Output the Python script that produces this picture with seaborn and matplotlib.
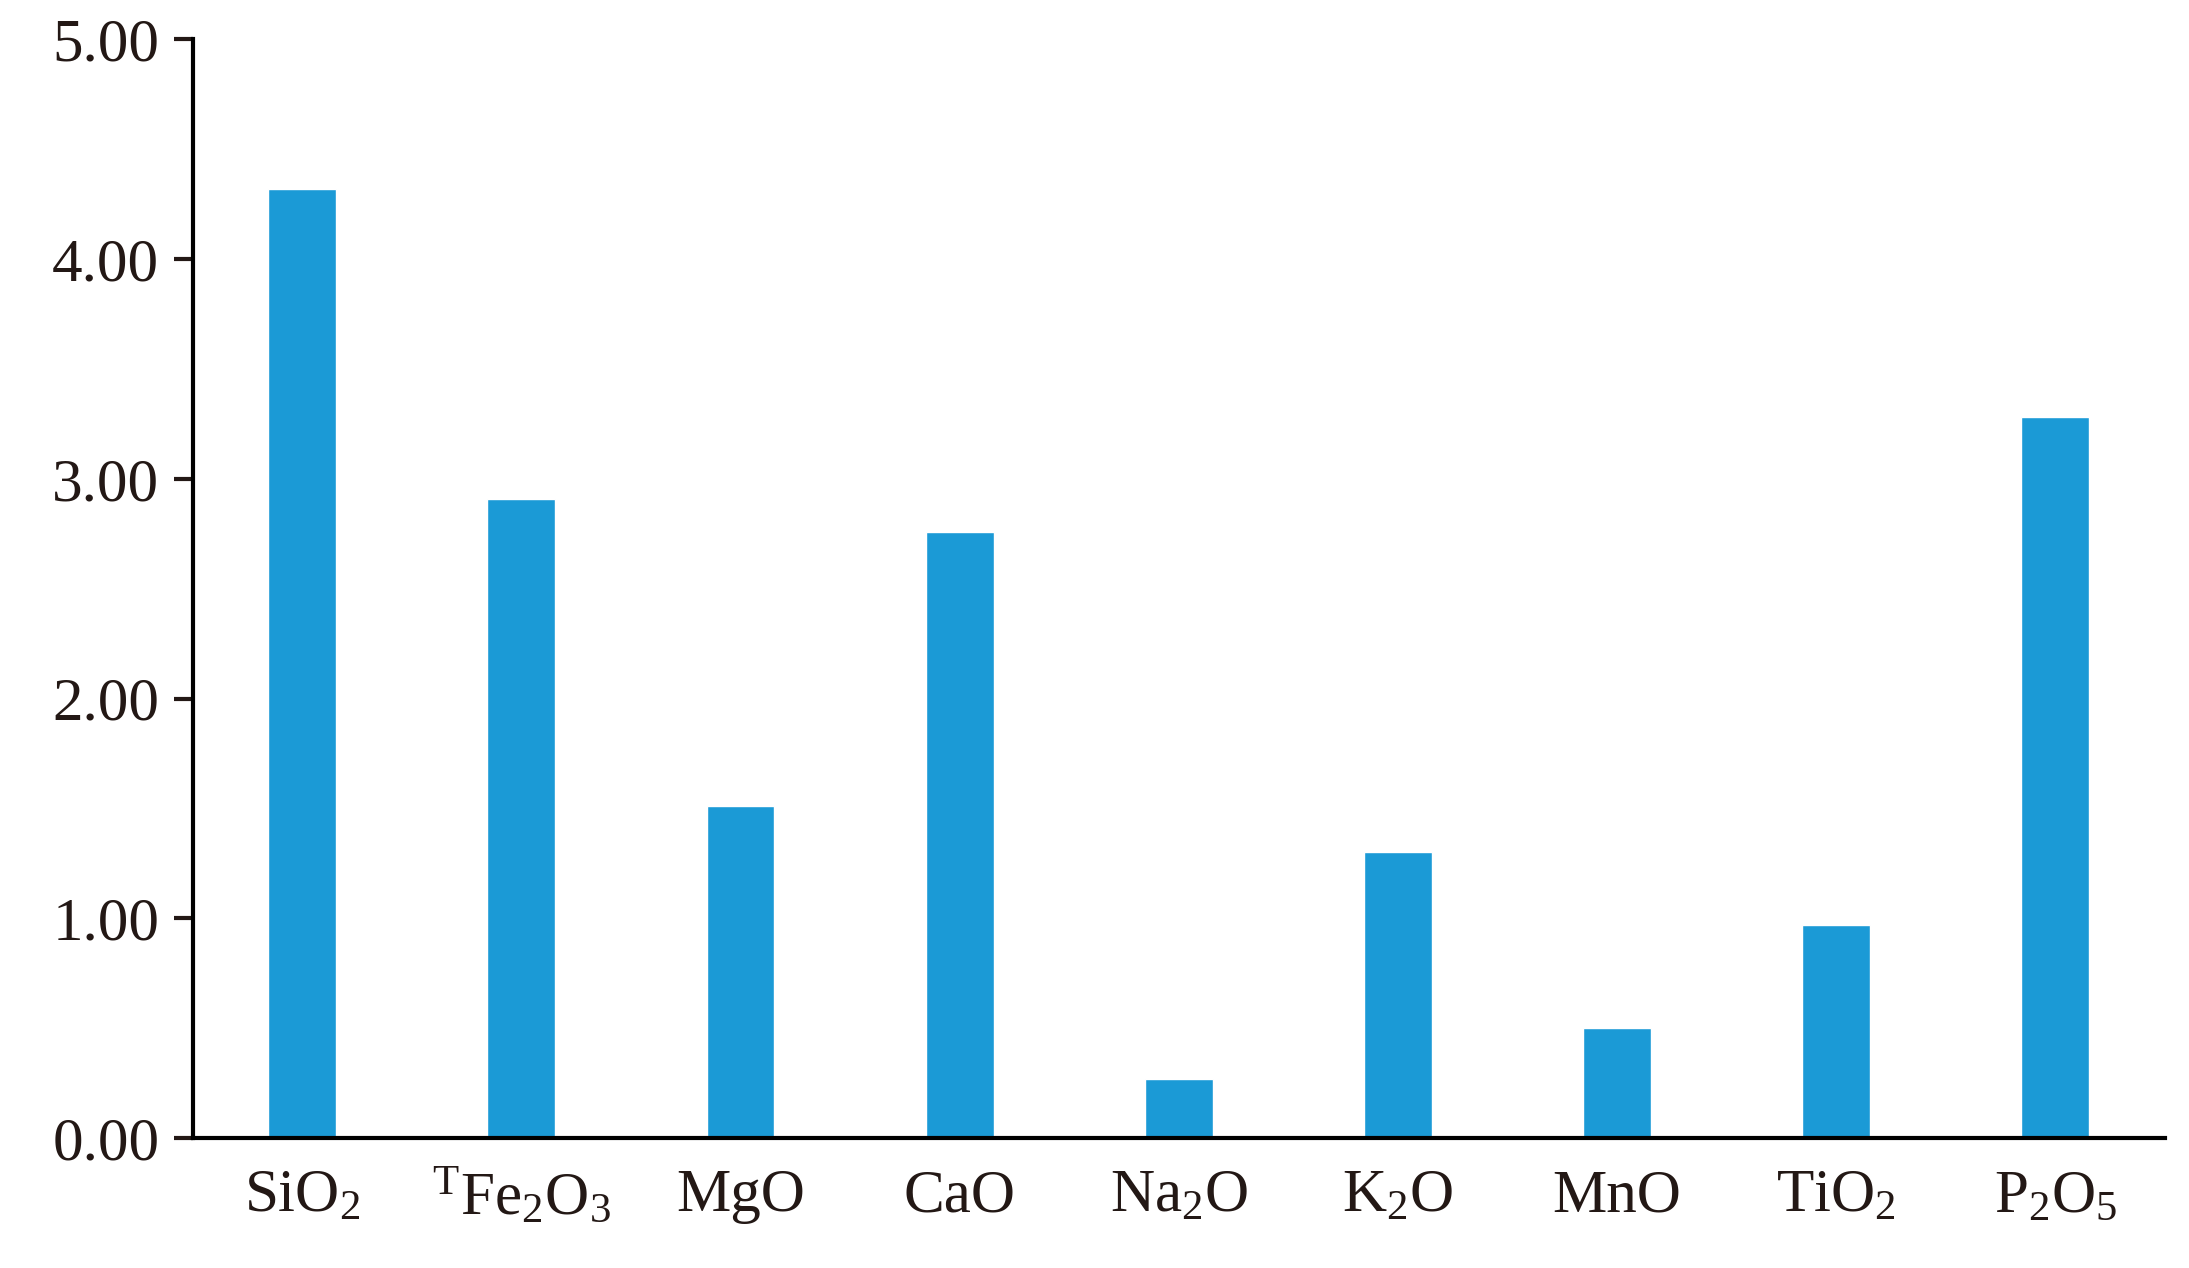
import matplotlib
matplotlib.use("Agg")
import matplotlib.pyplot as plt
import seaborn as sns
import pandas as pd

# oxide labels and values
oxides = [r"SiO$_2$", r"$^{\mathrm{T}}$Fe$_2$O$_3$", "MgO", "CaO", r"Na$_2$O",
          r"K$_2$O", "MnO", r"TiO$_2$", r"P$_2$O$_5$"]
values = [4.32, 2.91, 1.51, 2.76, 0.27, 1.30, 0.50, 0.97, 3.28]
yticks = [0, 1, 2, 3, 4, 5]

sns.set_style("ticks")
plt.rcParams["font.family"] = ["Liberation Serif", "DejaVu Serif"]
plt.rcParams["mathtext.fontset"] = "custom"
plt.rcParams["mathtext.rm"] = "Liberation Serif"
plt.rcParams["mathtext.it"] = "Liberation Serif"
plt.rcParams["mathtext.default"] = "regular"

df = pd.DataFrame({"oxide": oxides, "value": values})

fig = plt.figure(figsize=(21.89, 12.68), dpi=100)
ax = fig.add_axes([0.088, 0.1024, 0.901, 0.8666])
sns.barplot(data=df, x="oxide", y="value", color="#1B9AD6", saturation=1,
            width=0.31, ax=ax)

ax.set_ylim(0, 5)
ax.set_xlim(-0.5, len(oxides) - 0.5)
ax.set_yticks(yticks)
ax.set_yticklabels([f"{v:.2f}" for v in yticks])
ax.set_xlabel("")
ax.set_ylabel("")
ax.tick_params(axis="y", labelsize=44, length=14, width=3, direction="out", pad=10, colors="#231815")
ax.tick_params(axis="x", labelsize=44, length=0, pad=22, colors="#231815")
for s in ["top", "right"]:
    ax.spines[s].set_visible(False)
for s in ["left", "bottom"]:
    ax.spines[s].set_linewidth(3)
    ax.spines[s].set_color("black")

fig.savefig("out.png", dpi=100)
